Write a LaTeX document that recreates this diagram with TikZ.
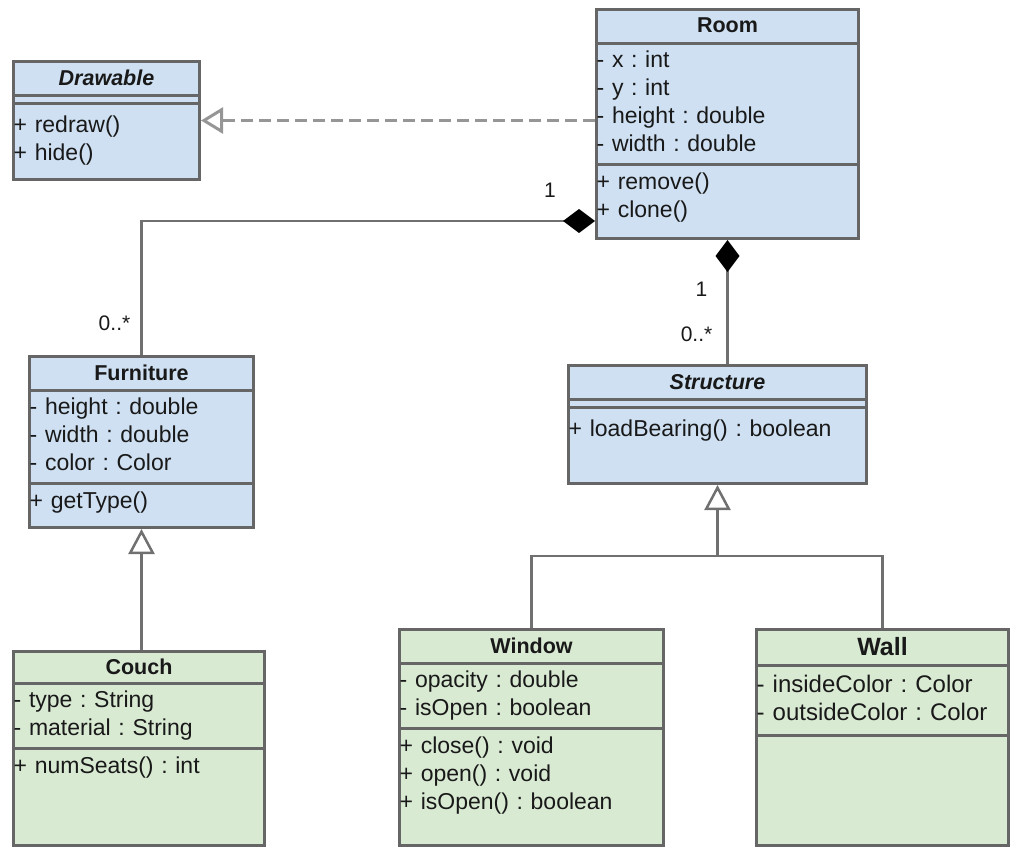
\documentclass[tikz,border=0pt]{standalone}
\usepackage{fontspec}
\setmainfont{Liberation Sans}
\usetikzlibrary{arrows.meta,positioning}
\definecolor{classblue}{RGB}{206,224,242}
\definecolor{classgreen}{RGB}{217,234,211}
\definecolor{linegray}{RGB}{102,102,102}
\definecolor{conngray}{RGB}{112,112,112}
\definecolor{dashgray}{RGB}{150,150,150}
\definecolor{textdark}{RGB}{25,25,25}
\frenchspacing

\begin{document}
\begin{tikzpicture}[
    x=1pt, y=-1pt,
    classbox/.style={draw=linegray, line width=3pt, anchor=north west, inner sep=0pt},
    title/.style={anchor=north, inner sep=0pt, minimum height=35pt, text=textdark, font=\fontsize{21.5}{26}\selectfont\bfseries},
    abstract/.style={title, font=\fontsize{21.5}{26}\selectfont\bfseries\itshape},
    members/.style={anchor=north west, align=left, text width=290pt, inner xsep=1.5pt, inner ysep=4.5pt, text=textdark, font=\fontsize{23}{28}\selectfont, execute at begin node=\strut, execute at end node=\strut},
    gap/.style={anchor=north west, inner sep=0pt, minimum height=8pt},
    sep/.style={draw=linegray, line width=3pt},
    mult/.style={text=textdark, font=\fontsize{21}{24}\selectfont},
    assoc/.style={draw=conngray, line width=2.5pt},
    comp/.style={assoc, -{Diamond[color=black, fill=black, length=32pt, width=24pt]}},
    inherit/.style={assoc, -{Triangle[fill=white, length=25pt, width=26pt]}},
    realize/.style={draw=dashgray, line width=3pt, dash pattern=on 12pt off 6pt, -{Triangle[fill=white, length=22pt, width=26pt]}}
]
    \useasboundingbox (0,0) rectangle (1011,846);

    % Drawable
    \node[classbox, fill=classblue, minimum width=186pt, minimum height=118pt] (drawable) at (12,60) {};
    \node[abstract] (drawable title) at (drawable.north) {Drawable};
    \node[gap] (drawable attr) at (drawable title.south -| drawable.west) {};
    \draw[sep] (drawable title.south -| drawable.west) -- (drawable title.south -| drawable.east);
    \draw[sep] (drawable attr.south -| drawable.west) -- (drawable attr.south -| drawable.east);
    \node[members, yshift=-4pt] (drawable ops) at (drawable attr.south -| drawable.west) {+ redraw()\\+ hide()};

    % Room
    \node[classbox, fill=classblue, minimum width=262pt, minimum height=229pt] (room) at (595,8) {};
    \node[title] (room title) at (room.north) {Room};
    \draw[sep] (room title.south -| room.west) -- (room title.south -| room.east);
    \node[members] (room attr) at (room title.south -| room.west) {- x : int\\- y : int\\- height : double\\- width : double};
    \draw[sep] (room attr.south -| room.west) -- (room attr.south -| room.east);
    \node[members] (room ops) at (room attr.south -| room.west) {+ remove()\\+ clone()};

    % Furniture
    \node[classbox, fill=classblue, minimum width=224pt, minimum height=171pt] (furniture) at (28,355) {};
    \node[title] (furniture title) at (furniture.north) {Furniture};
    \draw[sep] (furniture title.south -| furniture.west) -- (furniture title.south -| furniture.east);
    \node[members] (furniture attr) at (furniture title.south -| furniture.west) {- height : double\\- width : double\\- color : Color};
    \draw[sep] (furniture attr.south -| furniture.west) -- (furniture attr.south -| furniture.east);
    \node[members] (furniture ops) at (furniture attr.south -| furniture.west) {+ getType()};

    % Structure
    \node[classbox, fill=classblue, minimum width=298pt, minimum height=118pt] (structure) at (567,364) {};
    \node[abstract] (structure title) at (structure.north) {Structure};
    \node[gap] (structure attr) at (structure title.south -| structure.west) {};
    \draw[sep] (structure title.south -| structure.west) -- (structure title.south -| structure.east);
    \draw[sep] (structure attr.south -| structure.west) -- (structure attr.south -| structure.east);
    \node[members, yshift=-4pt] (structure ops) at (structure attr.south -| structure.west) {+ loadBearing() : boolean};

    % Couch
    \node[classbox, fill=classgreen, minimum width=251pt, minimum height=194pt] (couch) at (12,650) {};
    \node[title, minimum height=33pt] (couch title) at (couch.north) {Couch};
    \draw[sep] (couch title.south -| couch.west) -- (couch title.south -| couch.east);
    \node[members] (couch attr) at (couch title.south -| couch.west) {- type : String\\- material : String};
    \draw[sep] (couch attr.south -| couch.west) -- (couch attr.south -| couch.east);
    \node[members] (couch ops) at (couch attr.south -| couch.west) {+ numSeats() : int};

    % Window
    \node[classbox, fill=classgreen, minimum width=264pt, minimum height=216pt] (window) at (398,628) {};
    \node[title] (window title) at (window.north) {Window};
    \draw[sep] (window title.south -| window.west) -- (window title.south -| window.east);
    \node[members] (window attr) at (window title.south -| window.west) {- opacity : double\\- isOpen : boolean};
    \draw[sep] (window attr.south -| window.west) -- (window attr.south -| window.east);
    \node[members] (window ops) at (window attr.south -| window.west) {+ close() : void\\+ open() : void\\+ isOpen() : boolean};

    % Wall
    \node[classbox, fill=classgreen, minimum width=252pt, minimum height=216pt] (wall) at (755,628) {};
    \node[title, minimum height=37pt, font=\fontsize{25}{30}\selectfont\bfseries] (wall title) at (wall.north) {Wall};
    \draw[sep] (wall title.south -| wall.west) -- (wall title.south -| wall.east);
    \node[members, inner ysep=7pt, font=\fontsize{24}{28}\selectfont] (wall attr) at (wall title.south -| wall.west) {- insideColor : Color\\- outsideColor : Color};
    \draw[sep] (wall attr.south -| wall.west) -- (wall attr.south -| wall.east);

    % Relations
    \draw[realize] (room.west |- drawable.east) -- (drawable.east);
    \draw[comp] (furniture.north) |- ([yshift=19pt]room.south west);
    \draw[comp] (room.south |- structure.north) -- (room.south);
    \coordinate (split) at ([yshift=-71pt]structure.south);
    \draw[assoc] (window.north) |- (split) -| (wall.north);
    \draw[inherit] (split) -- (structure.south);
    \draw[inherit] (furniture.south |- couch.north) -- (furniture.south);

    % Multiplicities
    \node[mult] (room left end) at ([xshift=-45pt, yshift=50pt]room.south west) {1};
    \node[mult] (furniture end) at ([xshift=-27pt, yshift=32pt]furniture.north) {0..*};
    \node[mult] (room lower end) at ([xshift=-26pt, yshift=-49pt]room.south) {1};
    \node[mult] (structure end) at ([xshift=-21pt, yshift=30pt]structure.north) {0..*};
\end{tikzpicture}
\end{document}
